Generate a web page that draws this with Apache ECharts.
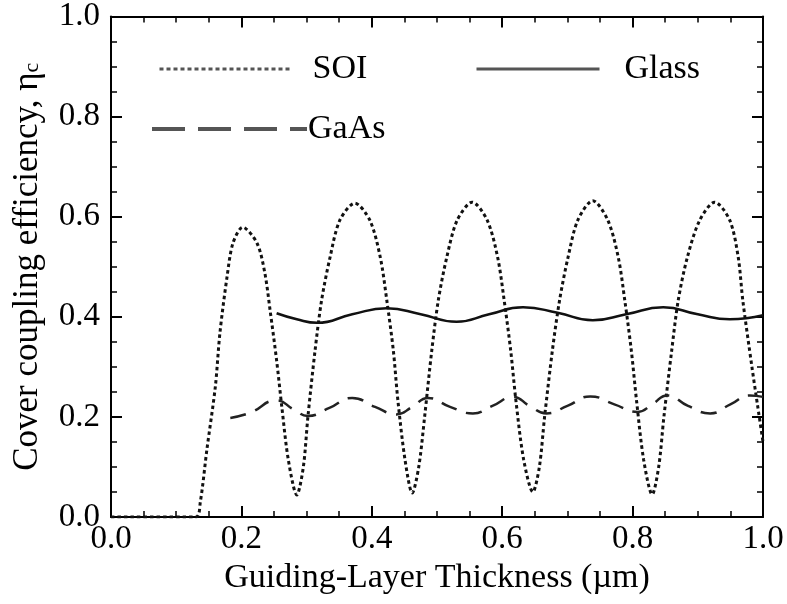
<!DOCTYPE html>
<html><head><meta charset="utf-8">
<script src="https://cdn.jsdelivr.net/npm/echarts@6/dist/echarts.min.js"></script>
<style>html,body{margin:0;padding:0;background:#fff}#c{width:787px;height:604px}</style>
</head><body><div id="c"></div>
<script>
var xTicks = [0.0, 0.2, 0.4, 0.6, 0.8, 1.0];
var yTicks = [0.0, 0.2, 0.4, 0.6, 0.8, 1.0];
var seriesNames = ['SOI', 'Glass', 'GaAs'];
var soiX = [0.0,0.13,0.137,0.147,0.160,0.167,0.178,0.187,0.202,0.224,0.236,0.244,0.254,0.262,0.272,0.285,0.295,0.302,0.313,0.323,0.336,0.351,0.374,0.397,0.413,0.423,0.433,0.44,0.451,0.462,0.472,0.481,0.492,0.502,0.515,0.531,0.554,0.577,0.593,0.603,0.613,0.621,0.633,0.647,0.657,0.665,0.677,0.688,0.701,0.716,0.739,0.762,0.778,0.788,0.798,0.806,0.817,0.83,0.84,0.848,0.86,0.87,0.884,0.903,0.926,0.949,0.962,0.969,0.983,0.992,1.0];
var soiY = [0.0,0.0,0.03,0.134,0.26,0.367,0.48,0.547,0.579,0.547,0.487,0.413,0.313,0.22,0.114,0.044,0.1,0.2,0.333,0.433,0.519,0.593,0.627,0.593,0.519,0.433,0.333,0.233,0.114,0.048,0.1,0.2,0.333,0.433,0.519,0.593,0.629,0.593,0.519,0.433,0.333,0.233,0.114,0.05,0.1,0.2,0.333,0.433,0.519,0.593,0.632,0.593,0.519,0.433,0.333,0.233,0.114,0.045,0.1,0.2,0.333,0.433,0.519,0.593,0.629,0.593,0.519,0.433,0.3,0.22,0.15];
var glassX = [0.254,0.285,0.316,0.37,0.423,0.475,0.53,0.58,0.632,0.685,0.739,0.79,0.847,0.9,0.949,1.0];
var glassY = [0.407,0.395,0.388,0.405,0.417,0.405,0.39,0.405,0.419,0.408,0.393,0.405,0.419,0.405,0.395,0.403];
var gaasX = [0.183,0.213,0.254,0.28,0.302,0.335,0.37,0.405,0.438,0.462,0.486,0.52,0.555,0.585,0.617,0.642,0.668,0.70,0.735,0.772,0.808,0.83,0.853,0.885,0.919,0.95,0.98,1.0];
var gaasY = [0.198,0.208,0.233,0.215,0.202,0.218,0.238,0.22,0.205,0.22,0.238,0.22,0.207,0.222,0.24,0.222,0.207,0.222,0.241,0.225,0.21,0.225,0.243,0.222,0.207,0.225,0.243,0.24];

function pairs(xs, ys){ return xs.map(function(x,i){return [x, ys[i]];}); }
var FONT = 'Liberation Serif';
var FS = 33;
var TFS = 34;
var chart = echarts.init(document.getElementById('c'), null, {renderer:'canvas'});
function fmt(v){ return v.toFixed(1); }
var tickStyle = {show:true, inside:true, length:11, lineStyle:{color:'#000', width:2}};
var minorStyle = {show:true, splitNumber:4, length:6, lineStyle:{color:'#000', width:1.5}};
var lineAx = {show:true, onZero:false, lineStyle:{color:'#000', width:2}};
var hideSym = {opacity:0};
chart.setOption({
  animation:false,
  backgroundColor:'#fff',
  grid:{left:111, right:24, top:16, bottom:87, containLabel:false},
  xAxis:[{
    type:'value', min:0, max:1, interval:0.2, position:'bottom',
    axisLine:lineAx, axisTick:tickStyle, minorTick:minorStyle, splitLine:{show:false},
    axisLabel:{formatter:fmt, fontFamily:FONT, fontSize:FS, color:'#000', margin:6},
    name:'Guiding-Layer Thickness (\u00b5m)', nameLocation:'middle', nameGap:44,
    nameTextStyle:{fontFamily:FONT, fontSize:TFS, color:'#000', verticalAlign:'top'}
  },{
    type:'value', min:0, max:1, interval:0.2, position:'top',
    axisLine:lineAx, axisTick:tickStyle, minorTick:minorStyle, splitLine:{show:false},
    axisLabel:{show:false}
  }],
  yAxis:[{
    type:'value', min:0, max:1, interval:0.2, position:'left',
    axisLine:lineAx, axisTick:tickStyle, minorTick:minorStyle, splitLine:{show:false},
    axisLabel:{formatter:fmt, fontFamily:FONT, fontSize:FS, color:'#000', margin:11},
    name:'Cover coupling efficiency, \u03b7{s|c}', nameLocation:'middle', nameGap:66,
    nameTextStyle:{fontFamily:FONT, fontSize:35, color:'#000', rich:{s:{fontFamily:FONT, fontSize:22, color:'#000', padding:[10,0,0,0]}}}
  },{
    type:'value', min:0, max:1, interval:0.2, position:'right',
    axisLine:lineAx, axisTick:tickStyle, minorTick:minorStyle, splitLine:{show:false},
    axisLabel:{show:false}
  }],
  legend:[
    {data:[seriesNames[0]], left:153, top:47, itemWidth:130, itemHeight:14, itemGap:0,
     itemStyle:hideSym, lineStyle:{color:'#555', width:3, type:[4,3]},
     textStyle:{fontFamily:FONT, fontSize:TFS, color:'#000', padding:[0,0,0,18]}},
    {data:[seriesNames[1]], left:470, top:47, itemWidth:123, itemHeight:14, itemGap:0,
     itemStyle:hideSym, lineStyle:{color:'#555', width:3, type:'solid'},
     textStyle:{fontFamily:FONT, fontSize:TFS, color:'#000', padding:[0,0,0,20]}},
    {data:[seriesNames[2]], left:145, top:107, itemWidth:155, itemHeight:14, itemGap:0,
     itemStyle:hideSym, lineStyle:{color:'#555', width:4, type:[33,13]},
     textStyle:{fontFamily:FONT, fontSize:TFS, color:'#000', padding:[0,0,0,-4]}}
  ],
  series:[
    {name:seriesNames[0], type:'line', data:pairs(soiX, soiY), smooth:0.3, symbol:'none',
     lineStyle:{color:'#111', width:3, type:[3.5,3]}},
    {name:seriesNames[1], type:'line', data:pairs(glassX, glassY), smooth:0.5, symbol:'none',
     lineStyle:{color:'#111', width:2.5, type:'solid'}},
    {name:seriesNames[2], type:'line', data:pairs(gaasX, gaasY), smooth:0.5, symbol:'none',
     lineStyle:{color:'#222', width:2.5, type:[16,10]}}
  ]
});
</script></body></html>
